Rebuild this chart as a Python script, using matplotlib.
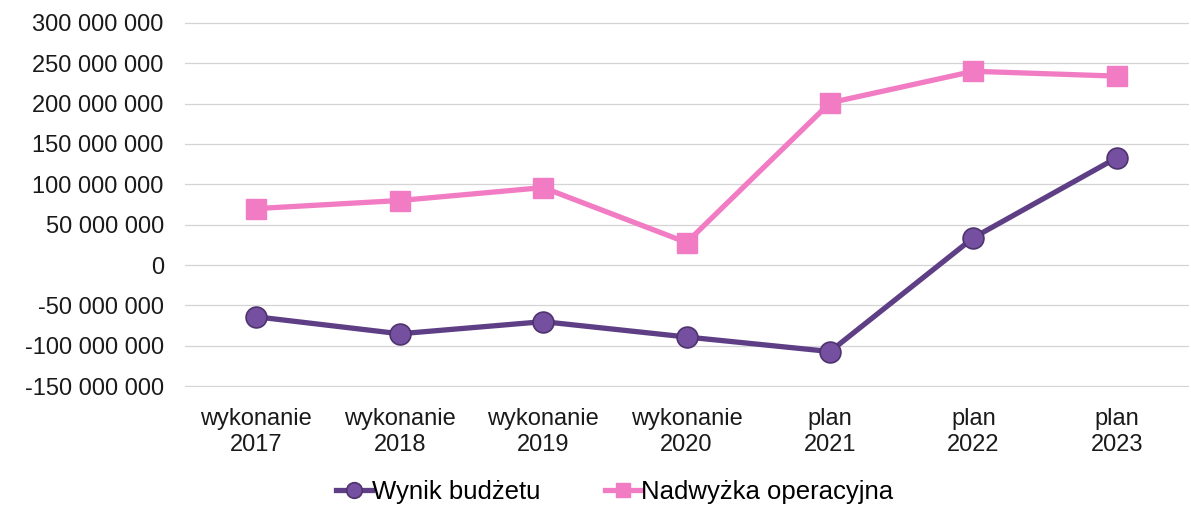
import matplotlib
matplotlib.use("Agg")
import matplotlib.pyplot as plt
from matplotlib.ticker import FuncFormatter

plt.rcParams['font.family'] = ['Liberation Sans', 'DejaVu Sans']

categories = ["wykonanie\n2017", "wykonanie\n2018", "wykonanie\n2019", "wykonanie\n2020",
              "plan\n2021", "plan\n2022", "plan\n2023"]
wynik = [-64e6, -85e6, -70e6, -89e6, -107e6, 34e6, 133e6]
nadwyzka = [70e6, 80e6, 96e6, 28e6, 201e6, 240e6, 234e6]
yticks = [-150e6, -100e6, -50e6, 0, 50e6, 100e6, 150e6, 200e6, 250e6, 300e6]

fig = plt.figure(figsize=(11.91, 5.12), dpi=100)
ax = fig.add_axes([0.155, 0.244, 0.843, 0.713])

x = range(len(categories))
ax.plot(x, wynik, color='#5E3F86', lw=3.8, marker='o', ms=15,
        markerfacecolor='#7650A0', markeredgecolor='#4E336F', markeredgewidth=1.2,
        label='Wynik budżetu', zorder=3)
ax.plot(x, nadwyzka, color='#F27CC3', lw=3.8, marker='s', ms=14,
        markerfacecolor='#F27CC3', markeredgecolor='#F27CC3',
        label='Nadwyżka operacyjna', zorder=3)

ax.set_xlim(-0.5, len(categories) - 0.5)
ax.set_ylim(-151e6, 301e6)
ax.set_yticks(yticks)

def fmt(v, pos):
    s = f"{int(round(abs(v))):,}".replace(",", " ")
    return ("-" if v < 0 else "") + s
ax.yaxis.set_major_formatter(FuncFormatter(fmt))

ax.set_xticks(list(x))
ax.set_xticklabels(categories, linespacing=1.25)
ax.tick_params(axis='both', length=0, labelsize=17, colors='#1a1a1a')
ax.tick_params(axis='y', pad=15)
ax.tick_params(axis='x', pad=15)
ax.grid(axis='y', color='#d4d4d4', lw=0.9)
ax.set_axisbelow(True)
for s in ax.spines.values():
    s.set_visible(False)

leg = fig.legend(loc='lower center', bbox_to_anchor=(0.516, -0.03), ncol=2, frameon=False,
                 fontsize=18.5, handlelength=1.4, handletextpad=0.0, columnspacing=2.5,
                 markerscale=0.75)

fig.savefig("out.png", dpi=100, facecolor='white')
